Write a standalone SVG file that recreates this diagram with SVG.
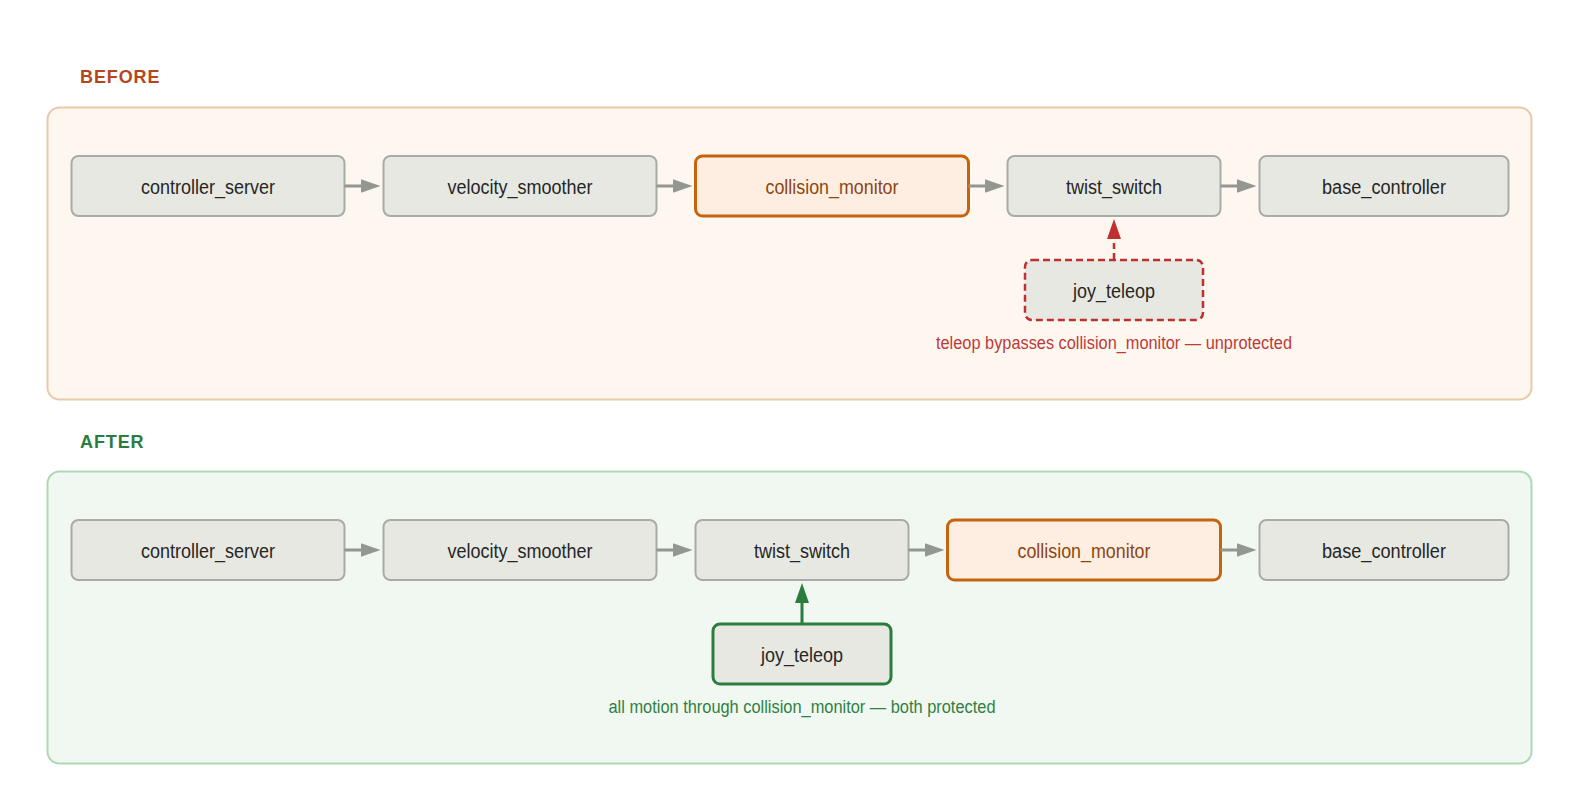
<svg xmlns="http://www.w3.org/2000/svg" width="1580" height="812" viewBox="0 0 1580 812">
<style>
.sec{font-family:"Liberation Sans",Arial,sans-serif;font-weight:bold;font-size:18px;letter-spacing:0.9px}
.box{fill:#e7e8e2;stroke:#a9aca5;stroke-width:2}
.cm{fill:#fdeee1;stroke:#c4640f;stroke-width:3}
.jb{stroke:#bf3030;stroke-width:2.5;stroke-dasharray:7 4}
.ja{stroke:#2a7d3e;stroke-width:3}
.t{font-family:"Liberation Sans",Arial,sans-serif;font-size:20px;fill:#262626;text-anchor:middle}
.tcm{fill:#8a4712}
.note{font-family:"Liberation Sans",Arial,sans-serif;font-size:18px;text-anchor:middle}
.gl{stroke:#939790;stroke-width:3;fill:none}
</style>
<defs>
<marker id="ag" viewBox="0 0 20 14" refX="12" refY="7" markerWidth="20" markerHeight="14" markerUnits="userSpaceOnUse" orient="auto"><path d="M0,0 L20,7 L0,14 z" fill="#939790"/></marker>
<marker id="ar" viewBox="0 0 20 14" refX="12" refY="7" markerWidth="20" markerHeight="14" markerUnits="userSpaceOnUse" orient="auto"><path d="M0,0 L20,7 L0,14 z" fill="#bf3030"/></marker>
<marker id="agr" viewBox="0 0 20 14" refX="12" refY="7" markerWidth="20" markerHeight="14" markerUnits="userSpaceOnUse" orient="auto"><path d="M0,0 L20,7 L0,14 z" fill="#2a7d3e"/></marker>
</defs>
<rect width="1580" height="812" fill="#ffffff"/>

<g id="before-section">
<text class="sec" x="80" y="83" fill="#b5461b">BEFORE</text>
<rect x="47.5" y="107.5" width="1484" height="292" rx="12" fill="#fdf7f0" stroke="#eac9aa" stroke-width="2"/>
</g>
<g id="after-section">
<text class="sec" x="80" y="447.5" fill="#2a7d3e">AFTER</text>
<rect x="47.5" y="471.5" width="1484" height="292" rx="12" fill="#f1f8f1" stroke="#acd9b5" stroke-width="2"/>
</g>

<g id="b-controller_server"><rect class="box" x="71.5" y="156" width="273" height="60" rx="7"/><text class="t" x="208" y="193.5" textLength="134" lengthAdjust="spacingAndGlyphs">controller_server</text></g>
<g id="b-velocity_smoother"><rect class="box" x="383.5" y="156" width="273" height="60" rx="7"/><text class="t" x="520" y="193.5" textLength="145" lengthAdjust="spacingAndGlyphs">velocity_smoother</text></g>
<g id="b-collision_monitor"><rect class="cm" x="695.5" y="156" width="273" height="60" rx="7"/><text class="t tcm" x="832" y="193.5" textLength="133" lengthAdjust="spacingAndGlyphs">collision_monitor</text></g>
<g id="b-twist_switch"><rect class="box" x="1007.5" y="156" width="213" height="60" rx="7"/><text class="t" x="1114" y="193.5" textLength="96" lengthAdjust="spacingAndGlyphs">twist_switch</text></g>
<g id="b-base_controller"><rect class="box" x="1259.5" y="156" width="249" height="60" rx="7"/><text class="t" x="1384" y="193.5" textLength="124" lengthAdjust="spacingAndGlyphs">base_controller</text></g>
<g id="b-joy_teleop"><rect class="box jb" x="1025" y="260" width="178" height="60" rx="7"/><text class="t" x="1114" y="297.5" textLength="82" lengthAdjust="spacingAndGlyphs">joy_teleop</text></g>
<text id="b-note" class="note" x="1114" y="349.3" fill="#bd3a3a" textLength="356" lengthAdjust="spacingAndGlyphs">teleop bypasses collision_monitor — unprotected</text>

<g id="a-controller_server"><rect class="box" x="71.5" y="520" width="273" height="60" rx="7"/><text class="t" x="208" y="557.5" textLength="134" lengthAdjust="spacingAndGlyphs">controller_server</text></g>
<g id="a-velocity_smoother"><rect class="box" x="383.5" y="520" width="273" height="60" rx="7"/><text class="t" x="520" y="557.5" textLength="145" lengthAdjust="spacingAndGlyphs">velocity_smoother</text></g>
<g id="a-twist_switch"><rect class="box" x="695.5" y="520" width="213" height="60" rx="7"/><text class="t" x="802" y="557.5" textLength="96" lengthAdjust="spacingAndGlyphs">twist_switch</text></g>
<g id="a-collision_monitor"><rect class="cm" x="947.5" y="520" width="273" height="60" rx="7"/><text class="t tcm" x="1084" y="557.5" textLength="133" lengthAdjust="spacingAndGlyphs">collision_monitor</text></g>
<g id="a-base_controller"><rect class="box" x="1259.5" y="520" width="249" height="60" rx="7"/><text class="t" x="1384" y="557.5" textLength="124" lengthAdjust="spacingAndGlyphs">base_controller</text></g>
<g id="a-joy_teleop"><rect class="box ja" x="713" y="624" width="178" height="60" rx="7"/><text class="t" x="802" y="661.5" textLength="82" lengthAdjust="spacingAndGlyphs">joy_teleop</text></g>
<text id="a-note" class="note" x="802" y="713.3" fill="#2e8142" textLength="387" lengthAdjust="spacingAndGlyphs">all motion through collision_monitor — both protected</text>

<g id="connectors">
<line class="gl" x1="344.5" y1="186" x2="372.5" y2="186" marker-end="url(#ag)"/>
<line class="gl" x1="656.5" y1="186" x2="684.5" y2="186" marker-end="url(#ag)"/>
<line class="gl" x1="968.5" y1="186" x2="996.5" y2="186" marker-end="url(#ag)"/>
<line class="gl" x1="1220.5" y1="186" x2="1248.5" y2="186" marker-end="url(#ag)"/>
<line x1="1114" y1="259" x2="1114" y2="227" stroke="#bf3030" stroke-width="2.5" stroke-dasharray="6 4" marker-end="url(#ar)"/>
<line class="gl" x1="344.5" y1="550" x2="372.5" y2="550" marker-end="url(#ag)"/>
<line class="gl" x1="656.5" y1="550" x2="684.5" y2="550" marker-end="url(#ag)"/>
<line class="gl" x1="908.5" y1="550" x2="936.5" y2="550" marker-end="url(#ag)"/>
<line class="gl" x1="1220.5" y1="550" x2="1248.5" y2="550" marker-end="url(#ag)"/>
<line x1="802" y1="623" x2="802" y2="591" stroke="#2a7d3e" stroke-width="3" marker-end="url(#agr)"/>
</g>
</svg>
